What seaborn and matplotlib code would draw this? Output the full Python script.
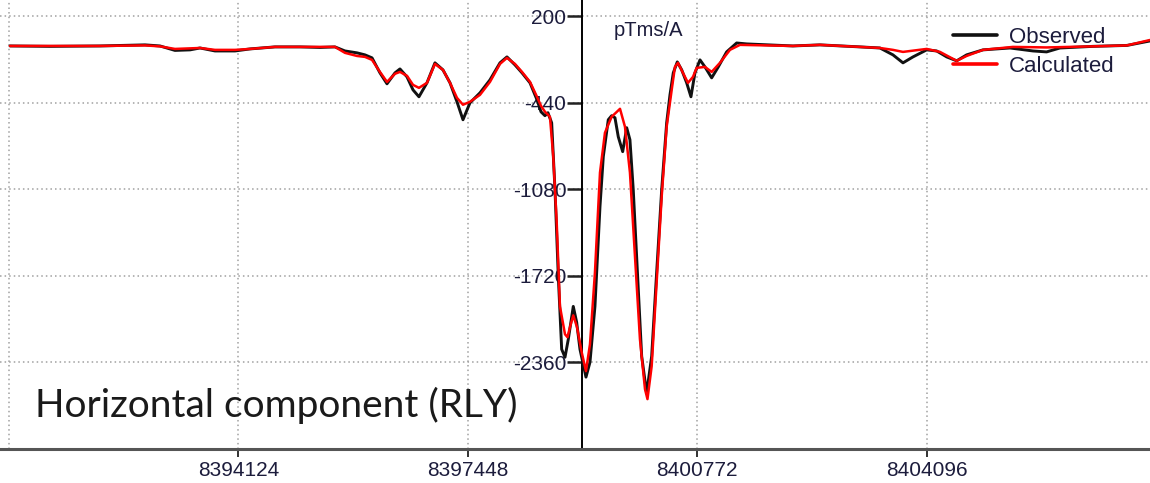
import matplotlib
matplotlib.use("Agg")
import matplotlib.pyplot as plt
import seaborn as sns
import pandas as pd

# ---------------- data ----------------
obs_x = [8390816, 8391395, 8392120, 8392772, 8392989, 8393206, 8393424, 8393569, 8393786, 8394076,
         8394293, 8394655, 8395017, 8395307, 8395524, 8395669, 8395843, 8395959, 8396061, 8396176,
         8396278, 8396394, 8396466, 8396568, 8396655, 8396741, 8396857, 8396973, 8397089, 8397191,
         8397292, 8397379, 8397480, 8397625, 8397770, 8397915, 8398016, 8398132, 8398234, 8398350,
         8398451, 8398509, 8398567, 8398610, 8398664, 8398712, 8398760, 8398809, 8398857, 8398905,
         8398977, 8399026, 8399074, 8399161, 8399219, 8399291, 8399364, 8399412, 8399484, 8399533,
         8399581, 8399629, 8399693, 8399751, 8399798, 8399846, 8399919, 8399968, 8400040, 8400113,
         8400185, 8400258, 8400330, 8400378, 8400426, 8400484, 8400548, 8400620, 8400682, 8400740,
         8400813, 8400885, 8400982, 8401078, 8401199, 8401344, 8401489, 8402160, 8402551, 8403131,
         8403420, 8403609, 8403754, 8403899, 8404097, 8404242, 8404387, 8404532, 8404676, 8404913,
         8405304, 8405637, 8405835, 8406028, 8406506, 8406999, 8407332]
obs_y = [-18, -21, -18, -10, -18, -51, -47, -33, -55, -55,
         -40, -25, -25, -29, -25, -55, -69, -84, -106, -217,
         -298, -217, -188, -247, -343, -394, -291, -143, -195, -291,
         -431, -564, -439, -365, -269, -143, -99, -158, -217, -291,
         -416, -505, -534, -512, -587, -1081, -1722, -2262, -2321, -2188,
         -1945, -2062, -2262, -2468, -2358, -1945, -1206, -837, -564, -534,
         -549, -690, -800, -623, -712, -1081, -1819, -2313, -2587, -2313,
         -1693, -1081, -587, -380, -217, -136, -195, -291, -394, -217,
         -121, -173, -254, -173, -62, 4, -3, -18, -10, -25,
         -33, -84, -143, -99, -47, -55, -99, -128, -84, -47,
         -33, -55, -62, -33, -21, -14, 19]

calc_x = [8390816, 8391395, 8392120, 8392772, 8392989, 8393206, 8393569, 8393786, 8394076, 8394293,
          8394655, 8395017, 8395307, 8395524, 8395669, 8395843, 8395959, 8396061, 8396176, 8396278,
          8396394, 8396466, 8396568, 8396655, 8396741, 8396857, 8396973, 8397089, 8397191, 8397292,
          8397379, 8397480, 8397625, 8397770, 8397915, 8398016, 8398132, 8398234, 8398350, 8398451,
          8398509, 8398567, 8398639, 8398687, 8398737, 8398784, 8398857, 8398893, 8398929, 8398977,
          8399031, 8399099, 8399161, 8399219, 8399291, 8399364, 8399436, 8399533, 8399654, 8399726,
          8399798, 8399871, 8399943, 8400016, 8400052, 8400113, 8400185, 8400258, 8400330, 8400403,
          8400450, 8400494, 8400566, 8400639, 8400711, 8400765, 8400885, 8400982, 8401102, 8401247,
          8401392, 8402160, 8402551, 8403131, 8403420, 8403609, 8403754, 8404097, 8404290, 8404532,
          8404676, 8404913, 8405347, 8405835, 8406506, 8406999, 8407332]
calc_y = [-18, -18, -18, -14, -21, -40, -33, -47, -47, -40,
          -25, -25, -25, -25, -69, -92, -99, -121, -210, -284,
          -224, -210, -239, -306, -328, -291, -151, -195, -291, -402,
          -453, -431, -380, -284, -151, -106, -151, -210, -284, -394,
          -461, -505, -542, -837, -1324, -1945, -2151, -2173, -2099, -2011,
          -2099, -2284, -2424, -2225, -1693, -955, -660, -542, -483, -616,
          -955, -1575, -2188, -2557, -2631, -2387, -1767, -1132, -616, -343,
          -173, -143, -217, -291, -247, -180, -173, -210, -143, -47,
          -10, -18, -10, -25, -33, -47, -62, -40, -62, -128,
          -92, -47, -25, -29, -21, -14, 26]

x_ticks = [8394124, 8397448, 8400772, 8404096]
x_tick_labels = ["8394124", "8397448", "8400772", "8404096"]
x_edge_grid = [8390800]
y_ticks = [200, -440, -1080, -1720, -2360]
y_tick_labels = ["200", "-440", "-1080", "-1720", "-2360"]
series_names = ["Observed", "Calculated"]
unit_label = "pTms/A"
panel_title = "Horizontal component (RLY)"

# ---------------- plot ----------------
sns.set_style("white")
plt.rcParams["font.family"] = ["Liberation Sans", "DejaVu Sans"]

fig = plt.figure(figsize=(11.5, 4.83), dpi=100)
ax = fig.add_axes([0.0, 34 / 483, 1.0, 449 / 483])

df_obs = pd.DataFrame({"x": obs_x, "y": obs_y})
df_calc = pd.DataFrame({"x": calc_x, "y": calc_y})
sns.lineplot(data=df_obs, x="x", y="y", ax=ax, color="#111111", lw=2.1,
             sort=False, estimator=None, label=series_names[0], zorder=3)
sns.lineplot(data=df_calc, x="x", y="y", ax=ax, color="#ff0000", lw=1.8,
             sort=False, estimator=None, label=series_names[1], zorder=4)
for ln in ax.get_lines():
    ln.set_solid_joinstyle("round")
    ln.set_solid_capstyle("round")

ax.set_xlim(8390671, 8407333)
ax.set_ylim(-3000, 322)

ax.set_xticks(x_ticks)
ax.set_xticklabels(x_tick_labels)
ax.set_xticks(x_edge_grid, minor=True)
ax.set_yticks(y_ticks)
ax.set_yticklabels(y_tick_labels)

tick_col = "#1c1c3c"
ax.tick_params(axis="x", which="major", direction="out", length=5.5, width=1.3,
               color="#222222", labelsize=15, labelcolor=tick_col, pad=3, bottom=True)
ax.tick_params(axis="x", which="minor", length=0)
ax.tick_params(axis="y", which="major", direction="out", length=11, width=1.8,
               color="#222222", labelsize=15, labelcolor=tick_col, pad=0, left=True)

grid_kw = dict(color="#a0a0a0", linestyle=(0, (1, 2)), linewidth=1.1)
ax.grid(True, which="major", axis="both", **grid_kw)
ax.grid(True, which="minor", axis="x", **grid_kw)
ax.set_axisbelow(True)

ax.spines["top"].set_visible(False)
ax.spines["right"].set_visible(False)
ax.spines["left"].set_position(("data", 8399100))
ax.spines["left"].set_color("#000000")
ax.spines["left"].set_linewidth(1.4)
ax.spines["bottom"].set_color("#555555")
ax.spines["bottom"].set_linewidth(2.2)
ax.set_xlabel("")
ax.set_ylabel("")

leg = ax.legend(loc="upper left", bbox_to_anchor=(953 / 1150, 1 - 27 / 449),
                frameon=False, fontsize=16, handlelength=2.0, handletextpad=0.5,
                labelspacing=0.35, borderpad=0, borderaxespad=0)
for line in leg.get_lines():
    line.set_linewidth(2.6)
for t in leg.get_texts():
    t.set_color(tick_col)

ax.text(614 / 1150, 1 - 30 / 449, unit_label, transform=ax.transAxes,
        ha="left", va="center", fontsize=14.5, color=tick_col)
ax.text(35 / 1150, 1 - 405 / 449, panel_title, transform=ax.transAxes,
        ha="left", va="center", fontsize=28, color="#1a1a1a", family=["Lato", "DejaVu Sans"])

fig.savefig("out.png", dpi=100)
